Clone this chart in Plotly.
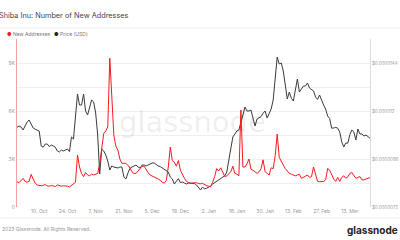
import pandas as pd
import plotly.graph_objects as go

START = "2022-09-29"

new_addresses = [
    1580, 1520, 1650, 1790, 1600, 1550, 1600, 2040, 1750, 1500,
    1375, 1350, 1330, 1360, 1400, 1320, 1300, 1350, 1300, 1280,
    1380, 1330, 1300, 1330, 1320, 1300, 1250, 1350, 1450, 1550,
    3250, 2500, 2100, 1900, 2150, 2000, 1950, 2050, 2000, 2050,
    2100, 2700, 3500, 4600, 4750, 5000, 9300, 7000, 4500, 3800,
    3560, 3000, 2730, 2730, 2730, 2600, 2440, 2200, 2100, 2100,
    2250, 2400, 2550, 2550, 2300, 2150, 2000, 1950, 1900, 1850,
    1750, 1680, 1540, 1490, 1650, 2500, 3750, 2900, 2800, 2550,
    2900, 2300, 2000, 1800, 1600, 1530, 1480, 1500, 1510, 1520,
    1470, 1450, 1480, 1400, 1330, 1300, 1270, 1550, 1900, 2400,
    2250, 2450, 2200, 1900, 1950, 2050, 2200, 2550, 2100, 2050,
    1950, 6060, 2500, 2500, 2700, 3000, 2350, 2300, 2200, 2100,
    2200, 2400, 2950, 2200, 2100, 2000, 2450, 2400, 3200, 4560,
    3100, 2850, 2600, 2400, 2250, 2100, 2050, 2000, 1950, 2000,
    2050, 1790, 1850, 1950, 2000, 1850, 1900, 2500, 2000, 1600,
    1580, 1580, 1600, 1700, 2400, 2300, 2000, 1750, 1600, 1850,
    1600, 1850, 1950, 1800, 1880, 2100, 2150, 2000, 1790, 1850,
    1900, 1700, 1690, 1750, 1790, 1830,
]

price_usd = [
    11.19e-6, 11.25e-6, 11.2e-6, 11.05e-6, 11.25e-6, 11.45e-6, 11.55e-6, 11.3e-6, 11.15e-6, 11.09e-6,
    11.05e-6, 11.0e-6, 10.25e-6, 10.19e-6, 10.35e-6, 10.35e-6, 10.22e-6, 10.3e-6, 10.25e-6, 10.19e-6,
    10.0e-6, 9.95e-6, 10.05e-6, 10.0e-6, 10.05e-6, 10.1e-6, 9.97e-6, 10.7e-6, 10.6e-6, 11.7e-6,
    12.85e-6, 12.3e-6, 12.3e-6, 12.85e-6, 12.0e-6, 11.8e-6, 12.2e-6, 12.55e-6, 12.45e-6, 11.9e-6,
    10.8e-6, 8.85e-6, 10.1e-6, 10.0e-6, 9.8e-6, 9.5e-6, 9.05e-6, 9.25e-6, 9.2e-6, 9.18e-6,
    9.15e-6, 9.2e-6, 9.2e-6, 8.7e-6, 8.6e-6, 8.9e-6, 9.13e-6, 9.2e-6, 9.25e-6, 9.3e-6,
    9.2e-6, 9.15e-6, 9.3e-6, 9.3e-6, 9.25e-6, 9.3e-6, 9.35e-6, 9.4e-6, 9.4e-6, 9.3e-6,
    9.25e-6, 9.22e-6, 9.15e-6, 9.1e-6, 9.05e-6, 8.95e-6, 8.7e-6, 8.6e-6, 8.35e-6, 8.5e-6,
    8.62e-6, 8.42e-6, 8.45e-6, 8.4e-6, 8.35e-6, 8.4e-6, 8.39e-6, 8.39e-6, 8.37e-6, 8.3e-6,
    8.15e-6, 8.05e-6, 8.2e-6, 8.1e-6, 8.14e-6, 8.18e-6, 8.25e-6, 8.35e-6, 8.42e-6, 8.5e-6,
    8.55e-6, 8.65e-6, 8.72e-6, 8.76e-6, 8.95e-6, 9.5e-6, 10.1e-6, 10.7e-6, 10.85e-6, 11.0e-6,
    11.05e-6, 11.5e-6, 11.8e-6, 12.2e-6, 12.0e-6, 12.0e-6, 12.05e-6, 11.64e-6, 11.25e-6, 11.6e-6,
    11.68e-6, 11.72e-6, 11.89e-6, 12.0e-6, 11.65e-6, 11.9e-6, 12.1e-6, 12.55e-6, 13.5e-6, 14.7e-6,
    14.35e-6, 14.4e-6, 14.0e-6, 13.2e-6, 12.6e-6, 12.95e-6, 12.64e-6, 12.5e-6, 13.0e-6, 13.6e-6,
    12.95e-6, 13.14e-6, 13.25e-6, 13.25e-6, 13.4e-6, 13.15e-6, 13.05e-6, 13.0e-6, 12.7e-6, 12.58e-6,
    12.8e-6, 12.5e-6, 12.3e-6, 12.1e-6, 11.75e-6, 11.62e-6, 11.14e-6, 11.15e-6, 11.18e-6, 11.14e-6,
    10.95e-6, 10.45e-6, 10.2e-6, 10.4e-6, 10.39e-6, 10.82e-6, 11.05e-6, 10.95e-6, 10.55e-6, 11.1e-6,
    10.85e-6, 10.85e-6, 10.75e-6, 10.8e-6, 10.7e-6, 10.64e-6,
]

left_ticks = [0, 1500, 3000, 4500, 6000, 7500, 9000, 10500]
left_labels = ["0", "", "3K", "", "6K", "", "9K", ""]
right_ticks = [7.2e-6, 9.6e-6, 12.0e-6, 14.4e-6]
right_labels = ["$0.0000072", "$0.0000096", "$0.000012", "$0.0000144"]

dates = pd.date_range(START, periods=len(new_addresses), freq="D")

RED = "#f7191e"
DARK = "#3a3a3a"
FONT = "Inter"

fig = go.Figure()
fig.add_trace(go.Scatter(x=dates, y=price_usd, mode="lines", name="Price (USD)",
                         line=dict(color=DARK, width=1), yaxis="y"))
fig.add_trace(go.Scatter(x=dates, y=new_addresses, mode="lines", name="New Addresses",
                         line=dict(color=RED, width=1), yaxis="y2"))

fig.update_layout(
    width=400, height=240,
    margin=dict(l=17, r=30, t=39, b=33),
    paper_bgcolor="white", plot_bgcolor="white",
    showlegend=False,
    font=dict(family=FONT, size=5, color="#999"),
    xaxis=dict(type="date", range=[dates[0], dates[-1]], automargin=False,
               tick0="2022-10-10", dtick=14 * 86400000, tickformat="%-d. %b",
               showgrid=False, zeroline=False, showline=False, ticks="",
               tickfont=dict(size=5, color="#999")),
    yaxis=dict(side="right", range=[7.2e-6, 15.6e-6], tickvals=right_ticks,
               ticktext=right_labels, showgrid=False, zeroline=False, automargin=False,
               showline=True, linecolor="#dddddd", linewidth=1, ticks="",
               tickfont=dict(size=4.5, color="#999")),
    yaxis2=dict(side="left", overlaying="y", range=[0, 10500], tickvals=left_ticks,
                ticktext=left_labels, showgrid=True, gridcolor="#efefef", gridwidth=1,
                zeroline=False, showline=True, linecolor="#f7a0a0", linewidth=1,
                automargin=False, ticks="", tickfont=dict(size=5, color="#999")),
)

def px_x(p):
    return (p - 17) / 353.0

def px_y(p):
    return (207 - p) / 168.0

ann = [
    dict(text="Shiba Inu: Number of New Addresses", x=px_x(-3), y=px_y(15),
         xanchor="left", yanchor="middle", font=dict(size=7.3, color="#444", family=FONT)),
    dict(text=f'<span style="color:{RED}">●</span> New Addresses', x=px_x(5), y=px_y(34),
         xanchor="left", yanchor="middle", font=dict(size=5, color="#777", family=FONT)),
    dict(text=f'<span style="color:#222">●</span> Price (USD)', x=px_x(52), y=px_y(34),
         xanchor="left", yanchor="middle", font=dict(size=5, color="#777", family=FONT)),
    dict(text="glassnode", x=px_x(192), y=px_y(122), xanchor="center", yanchor="middle",
         font=dict(size=29, color="rgba(0,0,0,0.08)", family="DejaVu Sans")),
    dict(text="2023 Glassnode. All Rights Reserved.", x=px_x(0), y=px_y(229),
         xanchor="left", yanchor="middle", font=dict(size=5, color="#999", family=FONT)),
    dict(text="<b>glassnode</b>", x=px_x(400), y=px_y(230), xanchor="right", yanchor="middle",
         font=dict(size=10, color="#222", family=FONT)),
]
for a in ann:
    a.update(xref="paper", yref="paper", showarrow=False)
fig.update_layout(annotations=ann)

fig.update_layout(shapes=[
    dict(type="line", xref="paper", yref="paper", x0=px_x(0), x1=px_x(400),
         y0=px_y(28), y1=px_y(28), line=dict(color="#eeeeee", width=1)),
    dict(type="line", xref="paper", yref="paper", x0=px_x(0), x1=px_x(400),
         y0=px_y(218), y1=px_y(218), line=dict(color="#eeeeee", width=1)),
])

fig.write_html("out.html")
